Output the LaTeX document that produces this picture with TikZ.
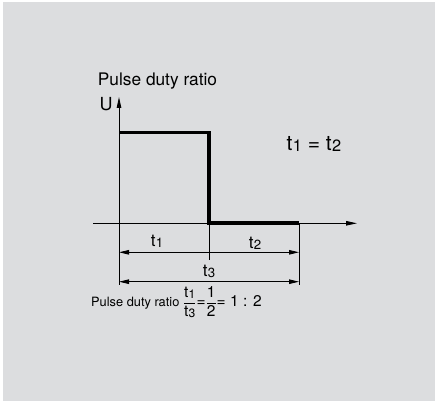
\documentclass[tikz,border=0pt]{standalone}
\usepackage{fontspec}
\setmainfont{TeX Gyre Heros}
\usetikzlibrary{arrows.meta,positioning}
\definecolor{panelgray}{HTML}{DCDDDF}
\newcommand{\tsub}[1]{t\kern0.02em\raisebox{-0.12ex}{\scalebox{0.78}{#1}}}

\begin{document}
\begin{tikzpicture}[x=1pt,y=1pt,
    axis/.style={line width=0.9pt,-{Triangle[length=11pt,width=4.5pt]}},
    dimline/.style={line width=0.9pt,{Triangle[length=10pt,width=4.5pt]}-{Triangle[length=10pt,width=4.5pt]}},
    thinline/.style={line width=0.9pt},
    pulse/.style={line width=3.6pt,line join=miter},
    lbl/.style={inner sep=0pt}]
    % Panel
    \fill[white] (0,0) rectangle (438,403);
    \fill[panelgray] (3,2) rectangle (435,401);

    % Axes
    \coordinate (xstart) at (93,179.7);
    \coordinate (xend) at (357,179.7);
    \coordinate (ybottom) at (119,118);
    \coordinate (ytop) at (119,306);
    \draw[axis] (xstart) -- (xend);
    \draw[axis] (ybottom) -- (ytop);
    \node[lbl] (title) at (157.5,322) {\fontsize{17.3}{20}\selectfont Pulse duty ratio};
    \node[lbl] (ulabel) at (106,299) {\fontsize{18}{20}\selectfont U};

    % Pulse
    \coordinate (high) at (119,270.3);
    \coordinate (edge) at (209,179.7);
    \coordinate (low) at (299,179.7);
    \draw[pulse] (high) -| (edge) -- (low);
    \node[lbl] (equal) at (314,259) {\fontsize{21}{24}\selectfont \tsub{1} = \tsub{2}};

    % Ticks
    \coordinate (tick3) at (209,143);
    \coordinate (tickend) at (299,118);
    \draw[thinline] (edge) -- (tick3);
    \draw[thinline] (low) -- (tickend);

    % Dimension lines
    \coordinate (d1l) at (119,150.7);
    \coordinate (d1r) at (299,150.7);
    \coordinate (d2l) at (119,121.3);
    \coordinate (d2r) at (299,121.3);
    \draw[dimline] (d1l) -- (d1r);
    \draw[dimline] (d2l) -- (d2r);
    \node[lbl] (tone) at (157,162) {\fontsize{17}{20}\selectfont \tsub{1}};
    \node[lbl] (ttwo) at (255,160) {\fontsize{17}{20}\selectfont \tsub{2}};
    \node[lbl] (tthree) at (209,132) {\fontsize{17}{20}\selectfont \tsub{3}};

    % Ratio formula
    \node[lbl,anchor=base west] (ratio) at (91,96) {\fontsize{12.8}{15}\selectfont Pulse duty ratio
      \fontsize{15.5}{17}\selectfont
      $\displaystyle\frac{\mbox{\tsub{1}}}{\mbox{\tsub{3}}}\mbox{=}\frac{\mbox{1}}{\mbox{2}}\mbox{= 1 : 2}$};
\end{tikzpicture}
\end{document}
